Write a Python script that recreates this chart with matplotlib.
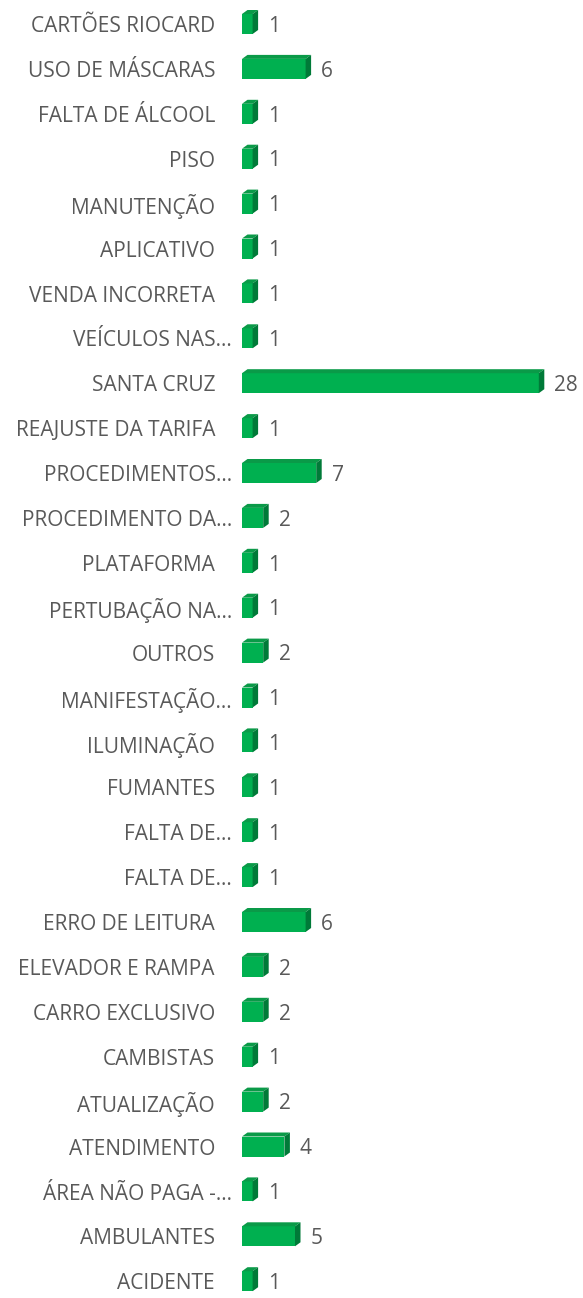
import matplotlib.pyplot as plt
from matplotlib.patches import Polygon

categorias = [
    'CARTÕES RIOCARD', 'USO DE MÁSCARAS', 'FALTA DE ÁLCOOL', 'PISO',
    'MANUTENÇÃO', 'APLICATIVO', 'VENDA INCORRETA', 'VEÍCULOS NAS...',
    'SANTA CRUZ', 'REAJUSTE DA TARIFA', 'PROCEDIMENTOS...',
    'PROCEDIMENTO DA...', 'PLATAFORMA', 'PERTUBAÇÃO NA...', 'OUTROS',
    'MANIFESTAÇÃO...', 'ILUMINAÇÃO', 'FUMANTES', 'FALTA DE...',
    'FALTA DE...', 'ERRO DE LEITURA', 'ELEVADOR E RAMPA',
    'CARRO EXCLUSIVO', 'CAMBISTAS', 'ATUALIZAÇÃO', 'ATENDIMENTO',
    'ÁREA NÃO PAGA -...', 'AMBULANTES', 'ACIDENTE',
]
valores = [1, 6, 1, 1, 1, 1, 1, 1, 28, 1, 7, 2, 1, 1, 2, 1, 1, 1, 1, 1,
           6, 2, 2, 1, 2, 4, 1, 5, 1]

W, H = 583, 1298
fig = plt.figure(figsize=(W / 100, H / 100), dpi=100)
x0 = 242
ax = fig.add_axes([x0 / W, 0, (W - x0) / W, 1])
px_x = 10.6          # pixels per unit
px_y = 44.9          # pixels per row
y0 = 24
ax.set_xlim(0, (W - x0) / px_x)
ax.set_ylim((H - y0) / px_y, -y0 / px_y)
ax.axis('off')

front = '#00B050'
top = '#0A9A48'
side = '#007A38'
txt = '#595959'

h = 20 / px_y
dx = 5.5 / px_x
dy = 4.0 / px_y

for i, v in enumerate(valores):
    yt = i - h / 2
    yb = i + h / 2
    ax.add_patch(Polygon([(0, yt), (v, yt), (v, yb), (0, yb)],
                         closed=True, facecolor=front, edgecolor='none'))
    ax.add_patch(Polygon([(0, yt), (v, yt), (v + dx, yt - dy), (dx, yt - dy)],
                         closed=True, facecolor=top, edgecolor='none'))
    ax.add_patch(Polygon([(v, yt), (v, yb), (v + dx, yb - dy), (v + dx, yt - dy)],
                         closed=True, facecolor=side, edgecolor='none'))
    ax.text(v + dx + 10 / px_x, i + 0.05, str(v), ha='left', va='center',
            fontsize=15, color=txt, family='Open Sans', clip_on=False)

for i, c in enumerate(categorias):
    xr = -27 / px_x
    if c.endswith('...'):
        xr = -10 / px_x
        c = c[:-3] + '…'
    ax.text(xr, i + 0.06, c, ha='right', va='center', fontsize=15,
            color=txt, family='Open Sans', clip_on=False)

fig.savefig('out.png', dpi=100)
